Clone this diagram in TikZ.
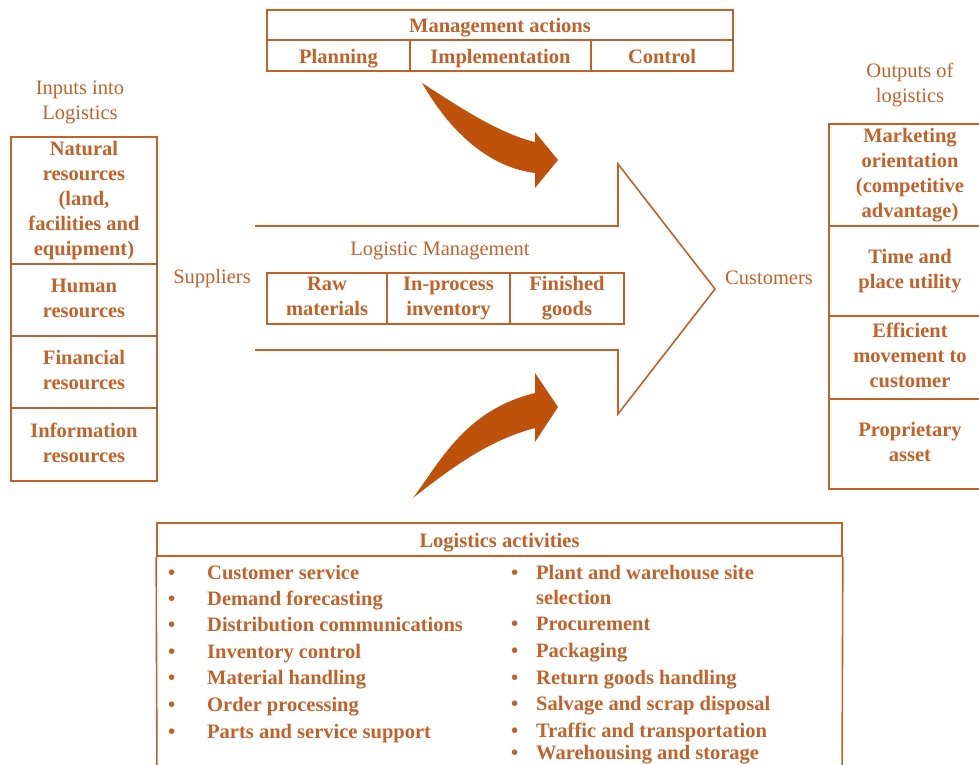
\documentclass[tikz,border=0pt]{standalone}
\usepackage{fontspec}
\setmainfont{Liberation Serif}
\definecolor{org}{RGB}{192,98,42}
\definecolor{orgfill}{RGB}{191,82,10}
\newcommand\myfs{\fontsize{20.5pt}{25pt}\selectfont}
\newcommand\mystrut{\rule[-4pt]{0pt}{24pt}}
\begin{document}
\begin{tikzpicture}[x=1pt,y=-1pt,
  cell/.style={draw=org, line width=1.6pt, inner sep=0pt, align=center, text=org, font=\myfs\bfseries, execute at begin node=\mystrut, execute at end node=\mystrut},
  lbl/.style={inner sep=0pt, align=center, text=org, font=\myfs, execute at begin node=\mystrut, execute at end node=\mystrut},
  item/.style={inner sep=0pt, anchor=west, text=org, font=\myfs\bfseries, execute at begin node=\strut},
  bul/.style={inner sep=0pt, anchor=west, text=org, font=\myfs\bfseries, execute at begin node=\strut},
  outl/.style={draw=org, line width=1.6pt},
  curv/.style={fill=orgfill, draw=none}]
\clip (0,0) rectangle (979,765);
\fill[white] (0,0) rectangle (979,765);

% Management actions
\node[cell, minimum width=466, minimum height=30] (mtitle) at (500,25) {Management actions};
\node[cell, minimum width=143, minimum height=31] (plan) at (338.5,55.5) {Planning};
\node[cell, minimum width=181, minimum height=31] (impl) at (500.5,55.5) {Implementation};
\node[cell, minimum width=142, minimum height=31] (ctrl) at (662,55.5) {Control};

% Inputs
\node[lbl] (inlbl) at (80,102) {Inputs into\\Logistics};
\node[cell, minimum width=146, minimum height=127] (nat) at (84,200.5) {Natural\\resources\\(land,\\facilities and\\equipment)};
\node[cell, minimum width=146, minimum height=72] (hum) at (84,300) {Human\\resources};
\node[cell, minimum width=146, minimum height=72] (fin) at (84,372) {Financial\\resources};
\node[cell, minimum width=146, minimum height=73] (inf) at (84,444.5) {Information\\resources};

% Outputs
\node[lbl] (outlbl) at (910,85) {Outputs of\\logistics};
\node[cell, minimum width=162, minimum height=102] (mkt) at (910,175) {Marketing\\orientation\\(competitive\\advantage)};
\node[cell, minimum width=162, minimum height=90] (tpu) at (910,271) {Time and\\place utility};
\node[cell, minimum width=162, minimum height=83] (eff) at (910,357.5) {Efficient\\movement to\\customer};
\node[cell, minimum width=162, minimum height=90] (prop) at (910,444) {Proprietary\\asset};

% Big arrow
\draw[outl, line join=miter] (255,226) -- (618,226) -- (618,164) -- (715,289) -- (618,414) -- (618,350) -- (255,350);
\node[lbl] (sup) at (212,276) {Suppliers};
\node[lbl] (cus) at (769,276) {Customers};
\node[lbl] (lm) at (440,248) {Logistic Management};
\node[cell, minimum width=120, minimum height=51] (raw) at (327,298.5) {Raw\\materials};
\node[cell, minimum width=123, minimum height=51] (inp) at (448.5,298.5) {In-process\\inventory};
\node[cell, minimum width=114, minimum height=51] (fg) at (567,298.5) {Finished\\goods};

% Curved arrows
\fill[curv] (422,83) .. controls (455,104) and (497,133) .. (535,142) -- (535,132) -- (558,160) -- (535,188) -- (535,173) .. controls (495,168) and (455,140) .. (422,83) -- cycle;
\fill[curv] (413,498) .. controls (440,462) and (465,410) .. (535,393) -- (535,373) -- (558,407) -- (535,442) -- (535,428) .. controls (490,440) and (455,465) .. (413,498) -- cycle;

% Logistics activities
\node[cell, minimum width=685, minimum height=33] (lat) at (499.5,539.5) {Logistics activities};
\draw[outl] (lat.south west) -- (157,800);
\draw[outl] (lat.south east) -- (842,800);

\foreach \y/\t [count=\i] in {574/Customer service, 600/Demand forecasting, 626/Distribution communications, 653/Inventory control, 679/Material handling, 706/Order processing, 733/Parts and service support}{
  \node[bul] (lb\i) at (168,\y) {•};
  \node[item] (lt\i) at (207,\y) {\t};
}
\foreach \y/\t [count=\i] in {574/Plant and warehouse site, 625/Procurement, 652/Packaging, 679/Return goods handling, 705/Salvage and scrap disposal, 732/Traffic and transportation, 754/Warehousing and storage}{
  \node[bul] (rb\i) at (511,\y) {•};
  \node[item] (rt\i) at (536,\y) {\t};
}
\node[item] (rsel) at (536,599) {selection};
\end{tikzpicture}
\end{document}
